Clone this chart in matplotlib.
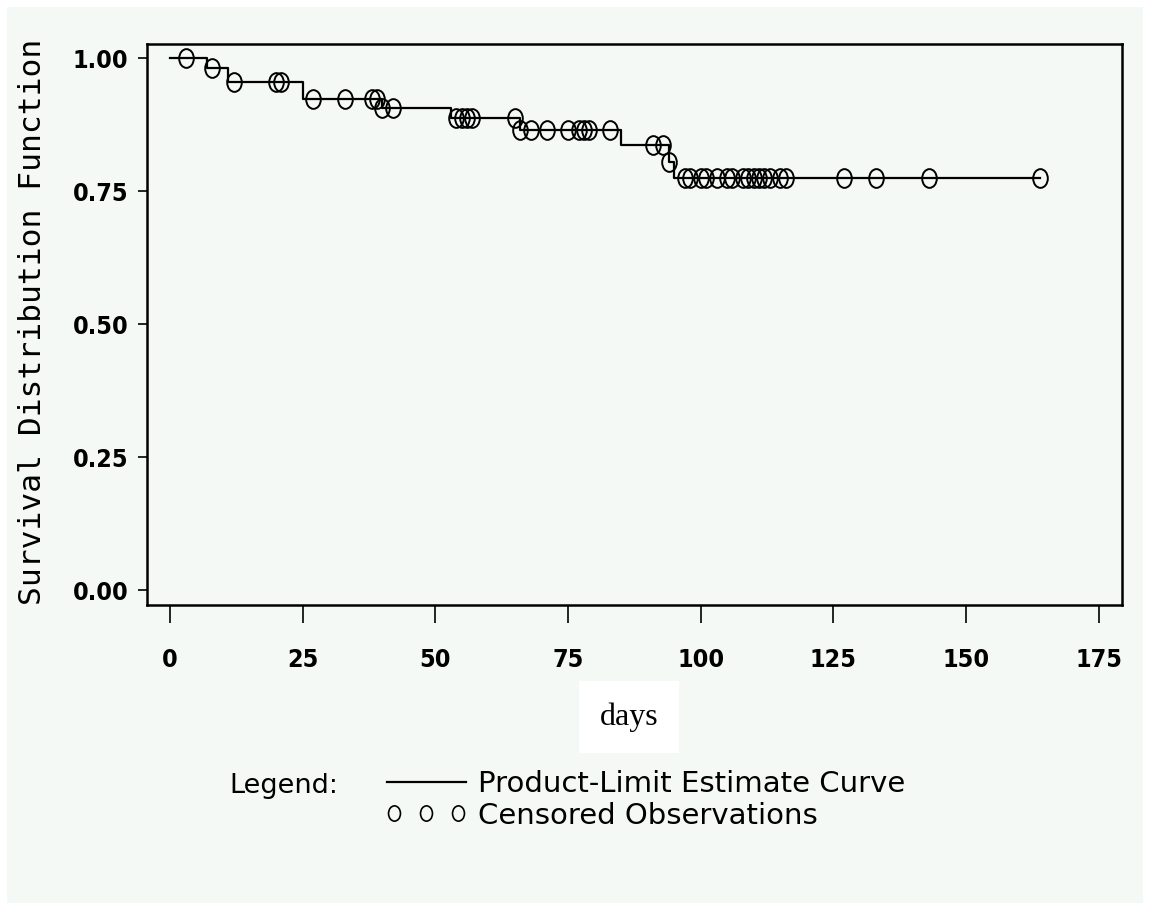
import numpy as np
import matplotlib.pyplot as plt
from matplotlib.path import Path
from matplotlib.transforms import Affine2D
from matplotlib.lines import Line2D
from matplotlib.patches import Rectangle
from matplotlib.legend_handler import HandlerLine2D

# product-limit curve: day of each drop and level after it
step_days = [0, 7, 11, 25, 40, 53, 66, 85, 94, 95]
step_surv = [1.000, 0.982, 0.956, 0.923, 0.906, 0.888, 0.866, 0.837, 0.806, 0.775]
last_day = 164

# censored observations (days)
censored_days = [3, 8, 12, 20, 21, 27, 33, 38, 39, 40, 42, 54, 55, 56, 57, 65,
                 66, 68, 71, 75, 77, 78, 79, 83, 91, 93, 94, 97, 98, 100, 101,
                 103, 105, 106, 108, 109, 110, 111, 112, 113, 115, 116, 127,
                 133, 143, 164]

x_ticks = [0, 25, 50, 75, 100, 125, 150, 175]
y_ticks = [0.00, 0.25, 0.50, 0.75, 1.00]

bg = '#F4F9F6'
W, H = 1150, 907

# censored points sit on the curve
idx = np.searchsorted(step_days, censored_days, side='right') - 1
cens_surv = np.array(step_surv)[idx]

# tall open ellipse like the SAS symbol
circ = Path.unit_circle()
oval = Path(Affine2D().scale(0.78, 1.0).transform(circ.vertices), circ.codes)

fig = plt.figure(figsize=(W / 100, H / 100), dpi=100, facecolor='white')
fig.patches.append(Rectangle((7 / W, 4 / H), 1 - 14 / W, 1 - 11 / H,
                             transform=fig.transFigure, facecolor=bg,
                             edgecolor='none', zorder=-10))

ax = fig.add_axes([147 / W, 1 - 605 / H, (1122 - 147) / W, (605 - 44) / H])
ax.set_facecolor(bg)

xs = step_days + [last_day]
ys = step_surv + [step_surv[-1]]
ax.step(xs, ys, where='post', color='black', lw=1.6)
ax.plot(censored_days, cens_surv, ls='none', marker=oval, markersize=13.5,
        mfc='none', mec='black', mew=1.4)

ax.set_xlim(-4.3, 179.4)
ax.set_ylim(-0.028, 1.027)
ax.set_xticks(x_ticks)
ax.set_yticks(y_ticks)
ax.set_xticklabels([str(t) for t in x_ticks])
ax.set_yticklabels(['%.2f' % t for t in y_ticks])

for s in ax.spines.values():
    s.set_linewidth(1.8)
ax.tick_params(axis='x', direction='out', length=13, width=1.2, pad=18,
               labelsize=18)
ax.tick_params(axis='y', direction='out', length=6.5, width=1.2, pad=7,
               labelsize=18)
for lab in ax.get_xticklabels() + ax.get_yticklabels():
    lab.set_fontweight('bold')
    lab.set_fontstretch('condensed')

fig.text(33 / W, 1 - 322 / H, 'Survival Distribution Function', rotation=90,
         ha='center', va='center', family='DejaVu Sans Mono', fontsize=22.5)

# x axis title on its own white patch
fig.text(629 / W, 1 - 717 / H, 'days', ha='center', va='center',
         family='Liberation Serif', fontsize=23,
         bbox=dict(facecolor='white', edgecolor='none', pad=15))

fig.text(229 / W, 1 - 786 / H, 'Legend:', ha='left', va='center', fontsize=19.5)
curve_h = Line2D([], [], color='black', lw=1.6)
cens_h = Line2D([], [], ls='none', marker=oval, markersize=11, mfc='none',
                mec='black', mew=1.2)
fig.legend([curve_h, cens_h],
           ['Product-Limit Estimate Curve', 'Censored Observations'],
           loc='upper left', bbox_to_anchor=(378 / W, 1 - 770 / H),
           frameon=False, fontsize=21, numpoints=3, handlelength=3.3,
           handletextpad=0.12, labelspacing=0.12, borderpad=0, borderaxespad=0,
           handler_map={cens_h: HandlerLine2D(marker_pad=0.55)})

fig.savefig('out.png', dpi=100, facecolor='white')
